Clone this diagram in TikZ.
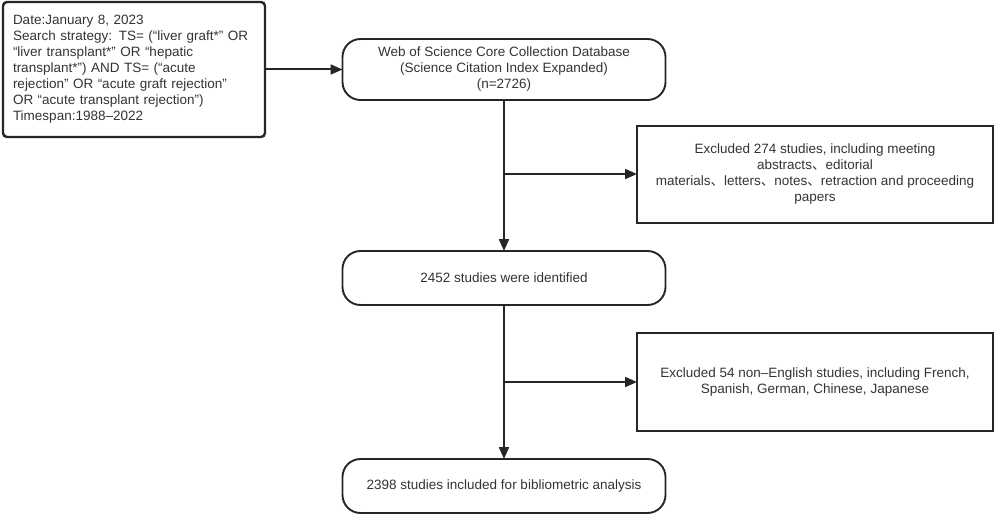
\documentclass[tikz,border=0pt]{standalone}
\usepackage{fontspec}
\setmainfont{Liberation Sans}
\newfontfamily\cjk{Noto Sans CJK SC}
\usetikzlibrary{arrows.meta}
\definecolor{txt}{HTML}{333333}
\definecolor{edge}{HTML}{262626}
\newcommand{\dun}{{\cjk 、}}
\tikzset{
  base/.style={draw=edge, text=txt, font=\fontsize{13.5}{16}\selectfont, inner sep=0pt, outer sep=0pt},
  pill/.style={base, line width=1.9pt, rounded corners=18pt, align=center},
  rect/.style={base, line width=2pt, align=center},
  srcbox/.style={base, line width=2.4pt, rounded corners=4pt, align=left},
  conn/.style={draw=edge, line width=2pt, -{Triangle[length=12pt,width=10pt]}}
}
\begin{document}
\begin{tikzpicture}[x=1pt,y=-1pt]
\useasboundingbox (0,0) rectangle (996,516);
\node[srcbox, minimum width=262pt, minimum height=135pt, text width=242pt] (src) at (134,69.5) {Date:January 8, 2023\\
Search strategy: TS= (“liver graft*” OR\\
“liver transplant*” OR “hepatic\\
transplant*”) AND TS= (“acute\\
rejection” OR “acute graft rejection”\\
OR “acute transplant rejection”)\\
Timespan:1988–2022};
\node[pill, minimum width=323pt, minimum height=61pt] (wos) at (504,69.5) {Web of Science Core Collection Database\\(Science Citation Index Expanded)\\(n=2726)};
\node[rect, minimum width=356pt, minimum height=97pt] (ex1) at (815,174.5) {Excluded 274 studies, including meeting\\abstracts\dun editorial\\materials\dun letters\dun notes\dun retraction and proceeding\\papers};
\node[pill, minimum width=323pt, minimum height=54pt] (id) at (504,278) {2452 studies were identified};
\node[rect, minimum width=356pt, minimum height=98pt] (ex2) at (815,382) {Excluded 54 non–English studies, including French,\\Spanish, German, Chinese, Japanese};
\node[pill, minimum width=323pt, minimum height=54pt] (fin) at (504,486) {2398 studies included for bibliometric analysis};
\coordinate (b1) at (504,174);
\coordinate (b2) at (504,382);
\draw[conn] (src.east) -- (wos.west);
\draw[conn] (wos.south) -- (id.north);
\draw[conn] (b1) -- (ex1.west |- b1);
\draw[conn] (id.south) -- (fin.north);
\draw[conn] (b2) -- (ex2.west);
\end{tikzpicture}
\end{document}
